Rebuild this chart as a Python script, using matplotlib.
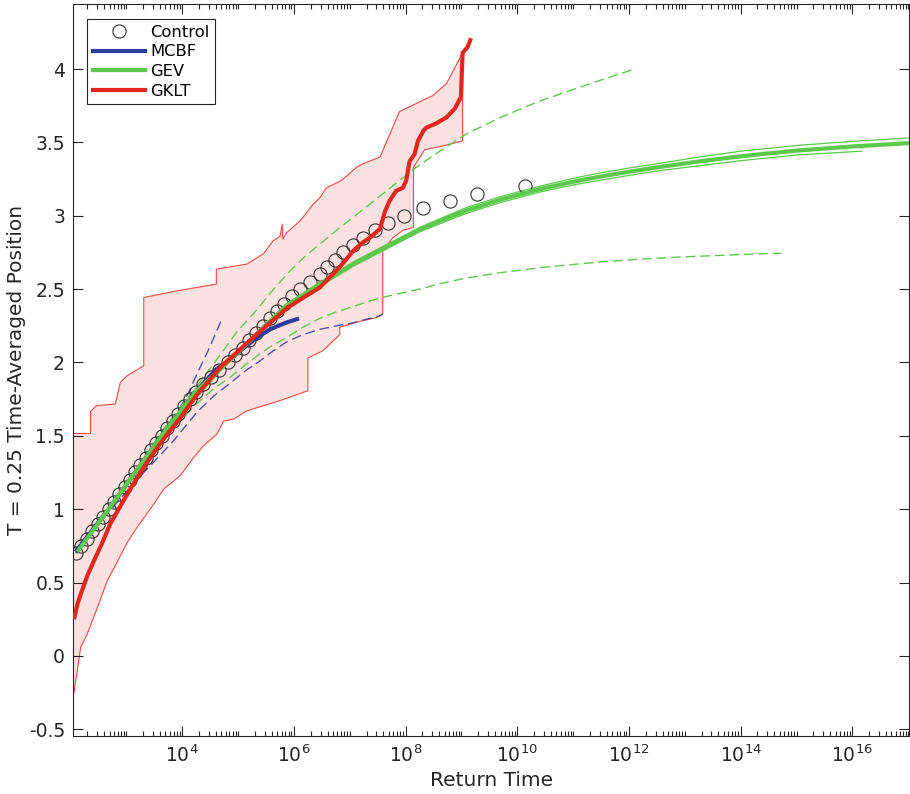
import numpy as np
import matplotlib
matplotlib.use("Agg")
import matplotlib.pyplot as plt
from matplotlib.ticker import FixedLocator, FixedFormatter, NullFormatter
from matplotlib.lines import Line2D

# ---------------- data (x values are log10 of return time) ----------------
control_y = [0.70, 0.75, 0.80, 0.85, 0.90, 0.95, 1.00, 1.05, 1.10, 1.15,
             1.20, 1.25, 1.30, 1.35, 1.40, 1.45, 1.50, 1.55, 1.60, 1.65,
             1.70, 1.75, 1.80, 1.85, 1.90, 1.95, 2.00, 2.05, 2.10, 2.15,
             2.20, 2.25, 2.30, 2.35, 2.40, 2.45, 2.50, 2.55, 2.60, 2.65,
             2.70, 2.75, 2.80, 2.85, 2.90, 2.95, 3.00, 3.05, 3.10, 3.15, 3.20]
control_logT = [2.09, 2.19, 2.29, 2.39, 2.49, 2.585, 2.68, 2.775, 2.87, 2.965,
                3.06, 3.155, 3.25, 3.345, 3.44, 3.535, 3.63, 3.73, 3.83, 3.93,
                4.03, 4.135, 4.24, 4.37, 4.51, 4.66, 4.81, 4.95, 5.08, 5.20,
                5.32, 5.44, 5.57, 5.70, 5.83, 5.97, 6.11, 6.28, 6.46, 6.60,
                6.74, 6.88, 7.06, 7.24, 7.45, 7.68, 7.97, 8.31, 8.79, 9.28, 10.13]

mcbf_logT = [2.09, 2.68, 3.25, 3.63, 4.24, 4.60, 4.86, 5.07, 5.27, 5.42, 5.57, 5.72, 5.85, 5.97, 6.09]
mcbf_y = [0.71, 1.00, 1.30, 1.50, 1.80, 1.95, 2.02, 2.09, 2.15, 2.19, 2.225, 2.25, 2.27, 2.285, 2.30]
mcbf_hi_logT = [2.09, 2.68, 3.00, 3.37, 3.67, 3.96, 4.12, 4.26, 4.45, 4.62, 4.71]
mcbf_hi_y = [0.72, 1.01, 1.18, 1.376, 1.51, 1.69, 1.80, 1.92, 2.07, 2.217, 2.296]
mcbf_lo_logT = [2.09, 2.68, 3.00, 3.31, 3.61, 3.85, 4.26, 4.56, 4.86, 5.12, 5.39,
                5.63, 5.87, 6.16, 6.46, 6.76, 7.06, 7.30, 7.54, 7.59]
mcbf_lo_y = [0.70, 0.98, 1.12, 1.25, 1.37, 1.47, 1.66, 1.77, 1.86, 1.94, 2.01,
             2.08, 2.14, 2.19, 2.225, 2.25, 2.27, 2.295, 2.318, 2.33]

gev_logT = [2.12, 2.68, 3.25, 3.63, 4.24, 4.81, 5.32, 5.87, 6.46, 7.06, 7.66,
            8.25, 8.65, 9.08, 9.70, 10.39, 11.00, 11.46, 12.00, 12.60, 13.25,
            14.00, 14.50, 15.04, 16.00, 17.02]
gev_y = [0.71, 1.00, 1.30, 1.50, 1.80, 2.00, 2.19, 2.39, 2.534, 2.67, 2.79,
         2.905, 2.97, 3.035, 3.11, 3.18, 3.232, 3.265, 3.30, 3.335, 3.37,
         3.405, 3.425, 3.445, 3.472, 3.495]
gev_thin_hi_logT = [2.12, 3.63, 4.81, 5.87, 7.06, 8.25, 9.08, 9.70, 10.39, 11.00,
                    11.46, 12.00, 12.60, 13.25, 14.00, 15.04, 16.00, 17.02]
gev_thin_hi_y = [0.71, 1.505, 2.005, 2.40, 2.685, 2.92, 3.055, 3.13, 3.20, 3.255,
                 3.29, 3.325, 3.36, 3.40, 3.44, 3.48, 3.507, 3.53]
gev_thin_lo_logT = [2.12, 3.63, 4.81, 5.87, 7.06, 8.25, 9.08, 9.70, 10.39, 11.00,
                    11.46, 12.00, 12.60, 13.25, 14.00, 15.04, 16.17]
gev_thin_lo_y = [0.70, 1.495, 1.995, 2.38, 2.655, 2.89, 3.015, 3.09, 3.16, 3.21,
                 3.24, 3.275, 3.31, 3.34, 3.375, 3.415, 3.44]
gev_hi_logT = [2.12, 2.68, 3.25, 3.63, 4.20, 4.56, 4.98, 5.27, 5.57, 5.87, 6.16, 6.46,
               6.76, 7.06, 7.36, 7.66, 8.19, 8.65, 9.08, 9.70, 10.39, 11.00, 11.46, 12.10]
gev_hi_y = [0.71, 1.005, 1.31, 1.53, 1.807, 1.99, 2.21, 2.33, 2.47, 2.60, 2.71, 2.806,
            2.90, 2.99, 3.08, 3.17, 3.33, 3.45, 3.556, 3.67, 3.78, 3.86, 3.92, 4.00]
gev_lo_logT = [2.12, 2.68, 3.25, 3.63, 4.26, 4.56, 4.86, 5.12, 5.39, 5.63, 5.87, 6.16,
               6.46, 6.76, 7.06, 7.36, 7.66, 8.25, 8.65, 9.08, 9.70, 10.39, 11.00,
               11.46, 12.20, 13.00, 13.90, 14.73]
gev_lo_y = [0.70, 0.99, 1.28, 1.47, 1.72, 1.82, 1.90, 1.98, 2.06, 2.12, 2.17, 2.24,
            2.30, 2.345, 2.38, 2.42, 2.45, 2.50, 2.54, 2.575, 2.612, 2.645, 2.668,
            2.684, 2.704, 2.72, 2.734, 2.745]

gklt_logT = [2.06, 2.12, 2.18, 2.30, 2.42, 2.57, 2.71, 2.86, 3.01, 3.16, 3.31, 3.46,
             3.61, 3.78, 3.96, 4.26, 4.68, 4.98, 5.27, 5.57, 5.87, 6.16, 6.46, 6.82,
             7.06, 7.24, 7.36, 7.54, 7.63, 7.71, 7.83, 7.95, 8.01, 8.07, 8.16, 8.22,
             8.32, 8.37, 8.55, 8.73, 8.88, 8.99, 9.02, 9.11, 9.17]
gklt_y = [0.25, 0.35, 0.42, 0.547, 0.65, 0.774, 0.90, 1.00, 1.10, 1.195, 1.285, 1.37,
          1.45, 1.535, 1.62, 1.78, 1.966, 2.07, 2.17, 2.27, 2.37, 2.44, 2.51, 2.65,
          2.76, 2.82, 2.85, 2.91, 3.03, 3.10, 3.17, 3.19, 3.24, 3.37, 3.42, 3.51,
          3.58, 3.60, 3.63, 3.67, 3.73, 3.81, 4.11, 4.15, 4.21]
band_lo_logT = [2.05, 2.12, 2.18, 2.30, 2.48, 2.655, 2.834, 3.01, 3.19, 3.49,
                3.67, 3.96, 4.20, 4.38, 4.62, 4.74, 4.92, 5.155, 5.75, 6.25,
                6.25, 6.52, 6.82, 6.82, 7.18, 7.48, 7.59, 7.59, 7.77, 7.95,
                8.14, 8.14, 8.34, 8.67, 9.02]
band_lo_y = [-0.27, -0.10, 0.06, 0.15, 0.33, 0.51, 0.64, 0.77, 0.876, 1.035,
             1.138, 1.228, 1.35, 1.432, 1.512, 1.60, 1.614, 1.67, 1.74, 1.807,
             2.03, 2.08, 2.19, 2.24, 2.28, 2.306, 2.33, 2.76, 2.85, 2.90,
             2.92, 3.33, 3.45, 3.476, 3.51]
band_hi_logT = [2.05, 2.357, 2.357, 2.464, 2.80, 2.89, 3.01, 3.31, 3.31, 3.905,
                4.61, 4.61, 5.155, 5.45, 5.63, 5.75, 5.79, 5.80, 5.87, 6.11,
                6.345, 6.46, 6.58, 6.85, 7.12, 7.21, 7.54, 7.89, 8.49, 8.73, 9.02]
band_hi_y = [1.516, 1.516, 1.666, 1.706, 1.716, 1.864, 1.909, 1.977, 2.443, 2.488,
             2.534, 2.636, 2.67, 2.74, 2.83, 2.86, 2.945, 2.84, 2.885, 2.965,
             3.08, 3.12, 3.19, 3.24, 3.33, 3.35, 3.40, 3.71, 3.82, 3.90, 4.11]

xtick_exp = [4, 6, 8, 10, 12, 14, 16]
xtick_labels = [r'$10^{%d}$' % e for e in xtick_exp]
ytick_vals = [-0.5, 0, 0.5, 1, 1.5, 2, 2.5, 3, 3.5, 4]
ytick_labels = ['-0.5', '0', '0.5', '1', '1.5', '2', '2.5', '3', '3.5', '4']
legend_labels = ['Control', 'MCBF', 'GEV', 'GKLT']

# ---------------- styling ----------------
C_BLUE = '#2c3b9c'
C_GREEN = '#5cc94c'
C_RED = '#e2271f'
C_BAND = '#fde1e1'
C_BANDEDGE = '#f04a45'
C_AX = '#262626'

plt.rcParams['font.family'] = ['DejaVu Sans']
plt.rcParams['mathtext.fontset'] = 'dejavusans'

fig = plt.figure(figsize=(9.10, 7.94), dpi=100)
ax = fig.add_axes([73.3 / 910, 1 - 736 / 794, (909.3 - 73.3) / 910, (736 - 4.3) / 794])
ax.set_xscale('log')

def X(v):
    return 10.0 ** np.asarray(v, dtype=float)

# band polygon
poly_x = np.concatenate([X(band_lo_logT), X(band_hi_logT)[::-1]])
poly_y = np.concatenate([np.asarray(band_lo_y), np.asarray(band_hi_y)[::-1]])
ax.fill(poly_x, poly_y, facecolor=C_BAND, edgecolor=C_BANDEDGE, linewidth=0.8, zorder=1)

dash = (0, (7, 3.5))
ax.plot(X(mcbf_hi_logT), mcbf_hi_y, color=C_BLUE, lw=1.0, ls=dash, alpha=0.85, zorder=2)
ax.plot(X(mcbf_lo_logT), mcbf_lo_y, color=C_BLUE, lw=1.0, ls=dash, alpha=0.85, zorder=2)
ax.plot(X(gev_hi_logT), gev_hi_y, color=C_GREEN, lw=1.0, ls=dash, zorder=2)
ax.plot(X(gev_lo_logT), gev_lo_y, color=C_GREEN, lw=1.0, ls=dash, zorder=2)
ax.plot(X(gev_thin_hi_logT), gev_thin_hi_y, color=C_GREEN, lw=0.9, zorder=3)
ax.plot(X(gev_thin_lo_logT), gev_thin_lo_y, color=C_GREEN, lw=0.9, zorder=3)

ax.plot(X(control_logT), control_y, ls='none', marker='o', ms=9.5, mfc='none',
        mec='#333333', mew=0.8, zorder=4)
ax.plot(X(mcbf_logT), mcbf_y, color=C_BLUE, lw=3.0, solid_capstyle='butt', zorder=5)
ax.plot(X(gev_logT), gev_y, color=C_GREEN, lw=3.0, solid_capstyle='butt', zorder=5)
ax.plot(X(gklt_logT), gklt_y, color=C_RED, lw=3.0, solid_capstyle='butt',
        solid_joinstyle='round', zorder=6)

# axes limits & ticks
ax.set_xlim(10 ** 2.048, 10 ** 17.02)
ax.set_ylim(-0.546, 4.441)

ax.xaxis.set_major_locator(FixedLocator([10.0 ** e for e in xtick_exp]))
ax.xaxis.set_major_formatter(FixedFormatter(xtick_labels))
minor = []
for n in range(2, 18):
    for k in range(1, 10):
        if k == 1 and n in xtick_exp:
            continue
        minor.append(k * 10.0 ** n)
ax.xaxis.set_minor_locator(FixedLocator(minor))
ax.xaxis.set_minor_formatter(NullFormatter())
ax.yaxis.set_major_locator(FixedLocator(ytick_vals))
ax.yaxis.set_major_formatter(FixedFormatter(ytick_labels))

ax.tick_params(which='both', direction='in', top=True, right=True, colors=C_AX,
               width=0.8)
ax.tick_params(which='major', length=7, labelsize=13.5, pad=6)
ax.tick_params(which='minor', length=3.5)
ax.tick_params(axis='y', which='minor', left=False, right=False)
for s in ax.spines.values():
    s.set_color(C_AX)
    s.set_linewidth(0.8)

ax.set_xlabel('Return Time', fontsize=14.5, color=C_AX, labelpad=4)
ax.set_ylabel('T = 0.25 Time-Averaged Position', fontsize=14.5, color=C_AX)
ax.yaxis.set_label_coords(-0.056, 0.5)

handles = [
    Line2D([], [], ls='none', marker='o', ms=9.5, mfc='none', mec='#333333', mew=0.8),
    Line2D([], [], color=C_BLUE, lw=3.0),
    Line2D([], [], color=C_GREEN, lw=3.0),
    Line2D([], [], color=C_RED, lw=3.0),
]
leg = ax.legend(handles, legend_labels, loc='upper left',
                bbox_to_anchor=((87 - 73.3) / 836, (736 - 19) / 731.7),
                borderaxespad=0, fontsize=11.8, handlelength=3.2,
                handletextpad=0.3, borderpad=0.35, labelspacing=0.28,
                fancybox=False, framealpha=1, edgecolor=C_AX, numpoints=1)
leg.get_frame().set_linewidth(0.8)

fig.savefig('out.png', dpi=100)
